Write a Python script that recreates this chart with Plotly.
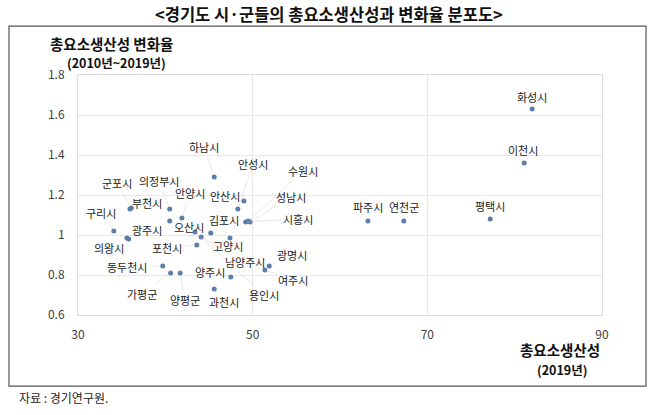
import plotly.graph_objects as go

# ---- data ----
regions = ["화성시", "이천시", "평택시", "파주시", "연천군", "하남시", "안산시", "안성시",
           "시흥시", "성남시", "수원시", "부천시", "군포시", "구리시", "광주시", "의왕시",
           "의정부시", "안양시", "오산시", "김포시", "고양시", "포천시", "남양주시", "용인시",
           "동두천시", "가평군", "양평군", "양주시", "과천시", "광명시", "여주시"]
tfp_2019 = [82.0, 81.1, 77.2, 63.2, 67.3, 45.6, 49.0, 48.3,
            49.2, 49.7, 49.5, 35.95, 36.1, 34.1, 35.8, 35.6,
            40.5, 41.9, 40.5, 45.2, 47.4, 43.6, 44.1, 43.4,
            39.7, 40.6, 41.7, 47.5, 45.6, 51.9, 51.4]
tfp_change = [1.63, 1.36, 1.08, 1.07, 1.07, 1.29, 1.17, 1.13,
              1.065, 1.065, 1.07, 1.13, 1.135, 1.02, 0.98, 0.985,
              1.13, 1.085, 1.07, 1.01, 0.985, 0.95, 0.99, 1.015,
              0.845, 0.81, 0.81, 0.79, 0.73, 0.845, 0.825]
x_ticks = [30, 50, 70, 90]
y_ticks = [0.6, 0.8, 1.0, 1.2, 1.4, 1.6, 1.8]
y_tick_text = ["0.6", "0.8", "1", "1.2", "1.4", "1.6", "1.8"]

# ---- label placement offsets (pixels, style only) ----
label_offsets = {
    "화성시": (0, -12), "이천시": (-1, -13), "평택시": (0, -13), "파주시": (0, -14),
    "연천군": (0, -14), "하남시": (-10, -30), "안산시": (-19, -5), "안성시": (15, -45),
    "시흥시": (52, -3), "성남시": (41, -25), "수원시": (55, -50), "부천시": (17, -6),
    "군포시": (-14, -25), "구리시": (-13, -18), "광주시": (18, -9), "의왕시": (-18, 10),
    "의정부시": (-11, -28), "안양시": (8, -25), "오산시": (19, 6), "김포시": (13, -13),
    "고양시": (-2, 8), "포천시": (-30, 3), "남양주시": (44, 25), "용인시": (69, 63),
    "동두천시": (-36, 1), "가평군": (-29, 21), "양평군": (5, 27), "양주시": (-21, -5),
    "과천시": (10, 13), "광명시": (23, -11), "여주시": (28, 10),
}

FONT = "Noto Sans CJK KR"

fig = go.Figure()
fig.add_trace(go.Scatter(
    x=tfp_2019, y=tfp_change, mode="markers",
    marker=dict(size=5, color="#5b7fa8"),
    hoverinfo="skip", showlegend=False,
))

annotations = []
for name, xv, yv in zip(regions, tfp_2019, tfp_change):
    ax, ay = label_offsets[name]
    annotations.append(dict(
        x=xv, y=yv, xref="x", yref="y", text=name,
        showarrow=True, ax=ax, ay=ay, arrowhead=0, arrowwidth=0.8,
        arrowcolor="rgba(200,190,180,0.45)", standoff=2,
        font=dict(family=FONT, size=11, color="#1a1a1a"),
    ))

# titles and texts
annotations += [
    dict(text="<b>&lt;경기도 시·군들의 총요소생산성과 변화율 분포도&gt;</b>",
         xref="paper", yref="paper", x=0.479, y=1.255, showarrow=False,
         xanchor="center", yanchor="middle",
         font=dict(family=FONT, size=16.5, color="#111111")),
    dict(text="<b>총요소생산성 변화율</b>", xref="paper", yref="paper",
         x=-0.0582, y=1.133, showarrow=False, xanchor="left", yanchor="middle",
         font=dict(family=FONT, size=14.5, color="#111111")),
    dict(text="<b>(2010년~2019년)</b>", xref="paper", yref="paper",
         x=-0.0248, y=1.052, showarrow=False, xanchor="left", yanchor="middle",
         font=dict(family=FONT, size=12.5, color="#111111")),
    dict(text="<b>총요소생산성</b>", xref="paper", yref="paper",
         x=0.92, y=-0.143, showarrow=False, xanchor="center", yanchor="middle",
         font=dict(family=FONT, size=14.5, color="#111111")),
    dict(text="<b>(2019년)</b>", xref="paper", yref="paper",
         x=0.924, y=-0.228, showarrow=False, xanchor="center", yanchor="middle",
         font=dict(family=FONT, size=12.5, color="#111111")),
    dict(text="자료 : 경기연구원.", xref="paper", yref="paper",
         x=-0.1164, y=-0.342, showarrow=False, xanchor="left", yanchor="middle",
         font=dict(family=FONT, size=12, color="#222222")),
]

fig.update_layout(
    width=658, height=415,
    margin=dict(l=78, r=56, t=75, b=100),
    paper_bgcolor="white", plot_bgcolor="white",
    hovermode=False,
    font=dict(family=FONT, size=12, color="#404040"),
    annotations=annotations,
    shapes=[dict(type="rect", xref="paper", yref="paper",
                 x0=-0.1317, x1=1.084, y0=-0.296, y1=1.204,
                 line=dict(color="#555555", width=1.2), layer="below")],
    xaxis=dict(range=[30, 90], tickvals=x_ticks, showgrid=True,
               gridcolor="#e8e8e8", gridwidth=1, zeroline=False,
               showline=True, linecolor="#dcdcdc", mirror=True,
               ticks="", ticklabelstandoff=9,
               tickfont=dict(family=FONT, size=12, color="#404040")),
    yaxis=dict(range=[0.6, 1.8], tickvals=y_ticks, ticktext=y_tick_text,
               showgrid=True, gridcolor="#e8e8e8", gridwidth=1, zeroline=False,
               showline=True, linecolor="#dcdcdc", mirror=True,
               ticks="", ticklabelstandoff=10,
               tickfont=dict(family=FONT, size=12, color="#404040")),
)

# remove the page's default body margin so the figure sits at the top-left corner
fig.write_html("out.html", config={"displayModeBar": False, "staticPlot": True},
               post_script="document.body.style.margin='0px';")
